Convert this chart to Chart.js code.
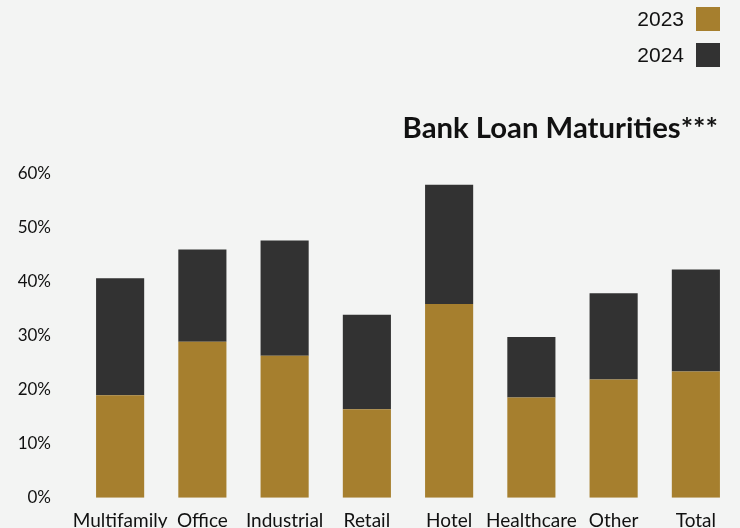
<!DOCTYPE html>
<html>
<head>
<meta charset="utf-8">
<script src="https://cdn.jsdelivr.net/npm/chart.js@4"></script>
<style>
  html, body { margin: 0; padding: 0; background: #f3f4f3; }
  #wrap { position: relative; width: 740px; height: 528px; overflow: hidden; }
  #legend { position: absolute; right: 20px; top: 7px; font-family: "Liberation Sans", Arial, sans-serif; font-size: 21px; color: #111; }
  .row { display: flex; align-items: center; justify-content: flex-end; height: 24px; margin-bottom: 12px; }
  .swatch { width: 24px; height: 24px; margin-left: 12px; }
  #title { position: absolute; right: 22px; top: 109px; font-family: Lato, sans-serif; font-weight: bold; font-size: 29.3px; color: #111; }
  canvas { position: absolute; left: 0; top: 0; }
</style>
</head>
<body>
<div id="wrap">
  <canvas id="loanChart" width="740" height="528"></canvas>
  <div id="legend"></div>
  <div id="title">Bank Loan Maturities***</div>
</div>
<script>
const categories = ['Multifamily', 'Office', 'Industrial', 'Retail', 'Hotel', 'Healthcare', 'Other', 'Total'];
const seriesNames = ['2023', '2024'];
const values2023 = [19.0, 28.9, 26.3, 16.4, 35.9, 18.6, 21.9, 23.4];
const values2024 = [21.7, 17.1, 21.4, 17.5, 22.1, 11.2, 16.0, 18.9];
const seriesColors = ['#a67f2e', '#323232'];

document.addEventListener('DOMContentLoaded', function () {
    const legendEl = document.getElementById('legend');
    seriesNames.forEach(function (name, i) {
        const row = document.createElement('div');
        row.className = 'row';
        row.innerHTML = '<span>' + name + '</span><span class="swatch" style="background:' + seriesColors[i] + '"></span>';
        legendEl.appendChild(row);
    });

    const ctx = document.getElementById('loanChart').getContext('2d');
    new Chart(ctx, {
        type: 'bar',
        data: {
            labels: categories,
            datasets: [
                { label: seriesNames[0], data: values2023, backgroundColor: seriesColors[0] },
                { label: seriesNames[1], data: values2024, backgroundColor: seriesColors[1] }
            ]
        },
        options: {
            responsive: false,
            animation: false,
            layout: { padding: { top: 174, right: 3, left: 0, bottom: 0 } },
            datasets: { bar: { categoryPercentage: 1, barPercentage: 0.585 } },
            plugins: {
                legend: { display: false },
                tooltip: { enabled: false }
            },
            scales: {
                x: {
                    stacked: true,
                    grid: { display: false },
                    border: { display: false },
                    ticks: {
                        color: '#111',
                        padding: 4,
                        maxRotation: 0,
                        autoSkip: false,
                        font: { family: 'Lato', size: 19 }
                    },
                    afterFit: function (scale) { scale.height = 30; }
                },
                y: {
                    stacked: true,
                    min: 0,
                    max: 60,
                    grid: { display: false },
                    border: { display: false },
                    ticks: {
                        stepSize: 10,
                        color: '#111',
                        padding: 20,
                        font: { family: 'Lato', size: 17 },
                        callback: function (v) { return v + '%'; }
                    },
                    afterFit: function (scale) { scale.width = 79; }
                }
            }
        }
    });
});
</script>
</body>
</html>
